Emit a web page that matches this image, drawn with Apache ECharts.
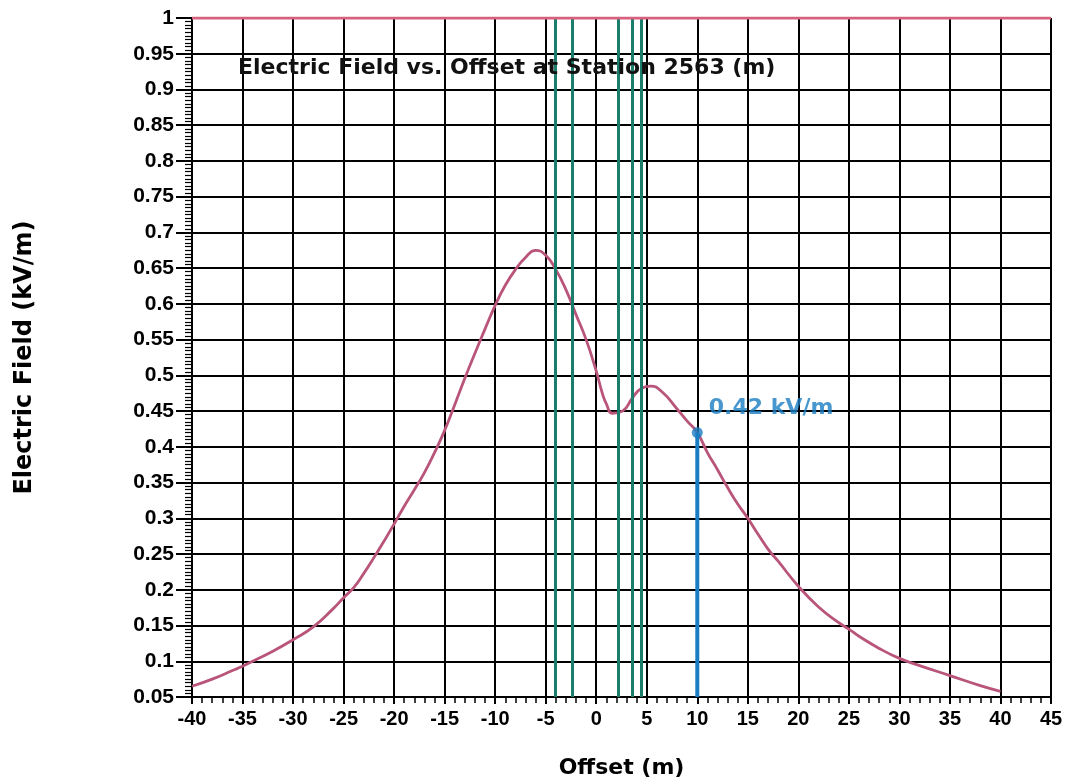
<!DOCTYPE html>
<html>
<head>
	<meta charset="UTF-8">
	<title>Electric Field vs. Offset</title>
	<script src="https://cdn.jsdelivr.net/npm/echarts@6/dist/echarts.min.js"></script>
	<style>
		html, body { margin: 0; padding: 0; background: #fff; }
	</style>
</head>
<body>
	<div id="main" style="width: 1071px; height: 783px;"></div>
	<script>
		// field profile
		var offsets = [-40, -38, -36, -35, -34, -32, -30, -28, -26, -25, -24, -23, -22, -21, -20, -19, -18, -17, -16, -15, -14, -13, -12, -11,
			-10, -9, -8, -7, -6, -5, -4, -3, -2, -1, 0, 0.6, 1, 1.6, 2.6, 3.6, 4.5, 5.4, 6.5, 8, 9, 10,
			11, 12, 13, 14, 15, 16, 17, 18, 20, 22, 24, 25, 26, 28, 30, 32, 35, 38, 40];
		var field = [0.065, 0.075, 0.087, 0.093, 0.100, 0.114, 0.130, 0.148, 0.174, 0.189, 0.203, 0.223, 0.245, 0.268, 0.292, 0.317, 0.340, 0.364, 0.392, 0.423, 0.459, 0.496, 0.531, 0.565,
			0.598, 0.626, 0.648, 0.665, 0.675, 0.668, 0.648, 0.620, 0.585, 0.550, 0.506, 0.475, 0.460, 0.447, 0.450, 0.469, 0.482, 0.485, 0.477, 0.453, 0.436, 0.420,
			0.392, 0.368, 0.343, 0.320, 0.300, 0.278, 0.257, 0.240, 0.205, 0.176, 0.154, 0.145, 0.135, 0.118, 0.104, 0.094, 0.080, 0.066, 0.058];
		// conductor positions (green)
		var conductors = [-4.1, -2.4, 2.2, 3.6, 4.5];
		// limit line on top
		var limitX = [-40, 45];
		var limitY = [1, 1];
		// marked point
		var markX = 10;
		var markY = 0.42;
		var markText = '0.42 kV/m';

		var myChart = echarts.init(document.getElementById('main'));

		var curve = [];
		for (var i = 0; i < offsets.length; i++) {
			curve.push([offsets[i], field[i]]);
		}
		var limit = [];
		for (var j = 0; j < limitX.length; j++) {
			limit.push([limitX[j], limitY[j]]);
		}
		var condLines = [];
		for (var k = 0; k < conductors.length; k++) {
			condLines.push({ xAxis: conductors[k] });
		}

		var wide = 'DejaVu Sans, Liberation Sans, Arial, sans-serif';
		var narrow = 'Liberation Sans, Arial, sans-serif';

		var option = {
			backgroundColor: '#fff',
			animation: false,
			title: {
				text: 'Electric Field vs. Offset at Station 2563 (m)',
				left: 233,
				top: 52,
				textStyle: { fontFamily: wide, fontWeight: 'bold', fontSize: 22, color: '#111' }
			},
			grid: { left: 192, right: 20, top: 18, bottom: 86, outerBoundsMode: 'none' },
			xAxis: {
				type: 'value',
				min: -40,
				max: 45,
				interval: 5,
				name: 'Offset (m)',
				nameLocation: 'middle',
				nameGap: 60,
				nameTextStyle: { fontFamily: wide, fontWeight: 'bold', fontSize: 22, color: '#000' },
				axisLine: { onZero: false, lineStyle: { color: '#000', width: 2 } },
				axisTick: { show: true, length: 7, lineStyle: { color: '#000', width: 2 } },
				minorTick: { show: true, splitNumber: 5, length: 6, lineStyle: { color: '#000', width: 1.5 } },
				axisLabel: { margin: 12, fontSize: 20, fontFamily: narrow, fontWeight: 'bold', color: '#000' },
				splitLine: { show: true, lineStyle: { color: '#000', width: 2 } }
			},
			yAxis: {
				type: 'value',
				min: 0.05,
				max: 1,
				interval: 0.05,
				name: 'Electric Field (kV/m)',
				nameLocation: 'middle',
				nameGap: 155,
				nameTextStyle: { fontFamily: wide, fontWeight: 'bold', fontSize: 24, color: '#000' },
				axisLine: { show: true, onZero: false, lineStyle: { color: '#000', width: 2 } },
				axisTick: { show: true, length: 16, lineStyle: { color: '#000', width: 2 } },
				minorTick: { show: true, splitNumber: 10, length: 7, lineStyle: { color: '#000', width: 1.2 } },
				axisLabel: { margin: 18, fontSize: 21, fontFamily: narrow, fontWeight: 'bold', color: '#000' },
				splitLine: { show: true, lineStyle: { color: '#000', width: 2 } }
			},
			series: [
				{
					name: 'conductors',
					type: 'line',
					data: [],
					markLine: {
						silent: true,
						symbol: ['none', 'none'],
						label: { show: false },
						lineStyle: { color: '#1b7d6c', width: 3, type: 'solid' },
						data: condLines
					}
				},
				{
					name: 'limit',
					type: 'line',
					data: limit,
					showSymbol: false,
					lineStyle: { color: '#d8617f', width: 3 },
					z: 5
				},
				{
					name: 'field',
					type: 'line',
					data: curve,
					smooth: 0.5,
					showSymbol: false,
					lineStyle: { color: '#b9557a', width: 2.8 },
					z: 4
				},
				{
					name: 'mark',
					type: 'line',
					data: [[markX, 0.05], [markX, markY]],
					showSymbol: false,
					lineStyle: { color: '#1a7dc2', width: 4 },
					z: 6
				},
				{
					name: 'markPoint',
					type: 'scatter',
					data: [[markX, markY]],
					symbolSize: 11,
					itemStyle: { color: '#1a7dc2' },
					label: {
						show: true,
						position: 'right',
						distance: 6,
						offset: [0, -24],
						formatter: markText,
						fontFamily: wide,
						fontWeight: 'bold',
						fontSize: 22,
						color: '#1a7dc2'
					},
					z: 7
				}
			]
		};
		myChart.setOption(option);
	</script>
</body>
</html>
